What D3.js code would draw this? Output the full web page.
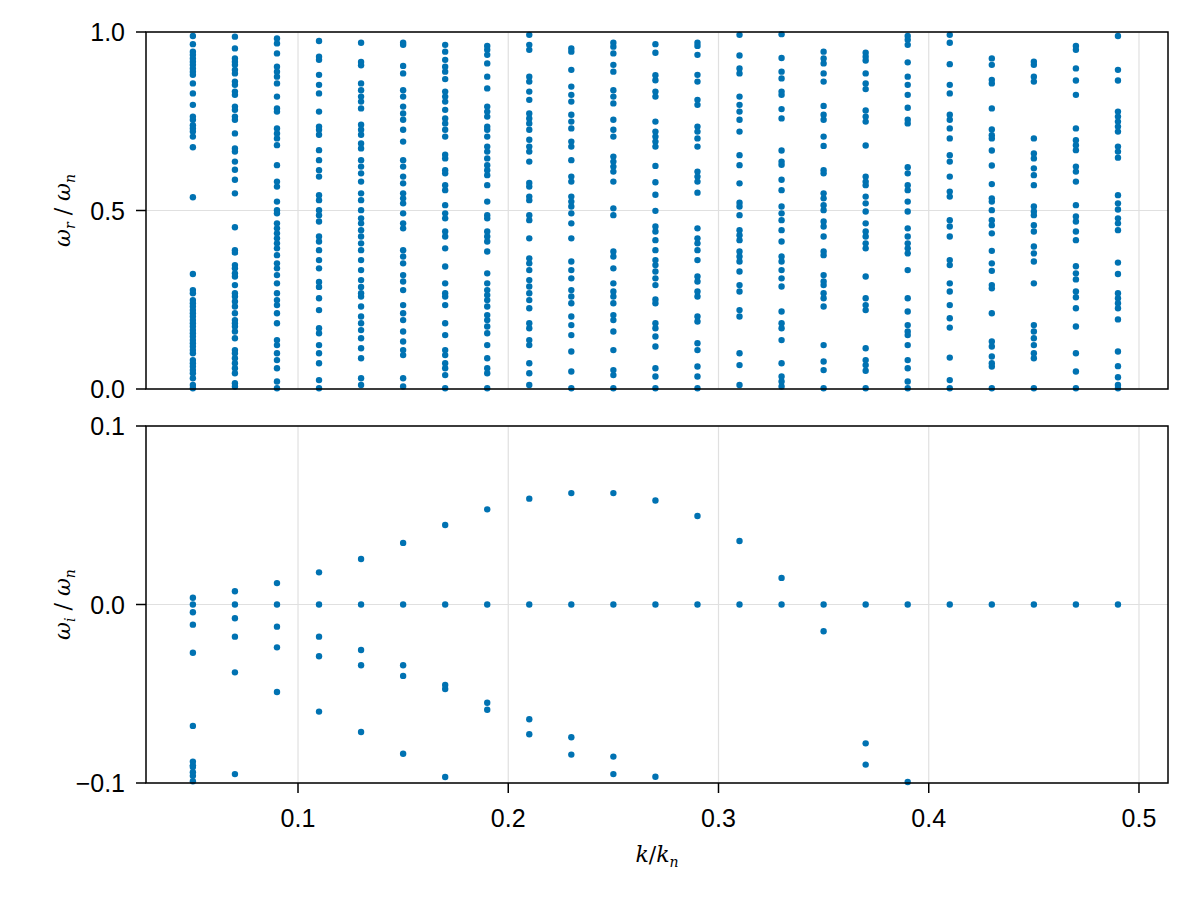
<!DOCTYPE html>
<html>
<head>
<meta charset="utf-8">
<script src="https://cdn.jsdelivr.net/npm/d3@7"></script>
<style>
  body { margin: 0; background: #fff; }
  .tick { font-family: "Liberation Sans", Arial, sans-serif; }
  .math { font-family: "DejaVu Serif", serif; font-style: italic; }
</style>
</head>
<body>
<svg id="chart" width="1200" height="900"></svg>
<script>
// wavenumber columns, k/k_n
const kValues = [0.05, 0.07, 0.09, 0.11, 0.13, 0.15, 0.17, 0.19, 0.21, 0.23, 0.25, 0.27,
  0.29, 0.31, 0.33, 0.35, 0.37, 0.39, 0.41, 0.43, 0.45, 0.47, 0.49];

// real part omega_r / omega_n, one list per k
const omegaR = [
  [0.989,0.966,0.945,0.936,0.926,0.917,0.908,0.898,0.889,0.880,0.856,0.828,0.796,0.763,0.754,0.739,0.730,0.721,0.707,0.677,0.537,0.322,0.277,0.268,0.249,0.240,0.231,0.221,0.212,0.203,0.193,0.184,0.175,0.165,0.156,0.147,0.137,0.128,0.119,0.109,0.100,0.081,0.072,0.063,0.053,0.044,0.030,0.011,0.002],
  [0.987,0.954,0.926,0.917,0.908,0.894,0.884,0.861,0.852,0.833,0.824,0.791,0.782,0.763,0.754,0.716,0.674,0.665,0.637,0.614,0.586,0.548,0.453,0.389,0.382,0.347,0.338,0.324,0.315,0.291,0.268,0.259,0.245,0.231,0.212,0.193,0.184,0.175,0.161,0.142,0.109,0.100,0.086,0.072,0.058,0.044,0.016,0.007],
  [0.982,0.968,0.940,0.903,0.889,0.875,0.856,0.819,0.786,0.777,0.730,0.716,0.702,0.683,0.627,0.581,0.567,0.525,0.501,0.492,0.464,0.450,0.436,0.422,0.408,0.394,0.375,0.352,0.338,0.319,0.296,0.268,0.249,0.235,0.212,0.184,0.137,0.123,0.100,0.081,0.058,0.021,0.002],
  [0.975,0.931,0.922,0.880,0.852,0.828,0.777,0.735,0.726,0.712,0.669,0.641,0.613,0.595,0.543,0.529,0.501,0.487,0.469,0.427,0.413,0.389,0.361,0.338,0.300,0.286,0.254,0.221,0.170,0.156,0.123,0.100,0.072,0.025,0.002],
  [0.970,0.916,0.907,0.856,0.837,0.819,0.805,0.786,0.740,0.726,0.712,0.688,0.674,0.641,0.623,0.604,0.581,0.548,0.529,0.501,0.478,0.464,0.445,0.427,0.408,0.389,0.361,0.333,0.305,0.286,0.268,0.259,0.231,0.203,0.184,0.165,0.142,0.114,0.086,0.030,0.011],
  [0.970,0.964,0.905,0.884,0.837,0.819,0.791,0.772,0.754,0.726,0.693,0.641,0.623,0.595,0.576,0.548,0.534,0.520,0.492,0.464,0.450,0.389,0.371,0.352,0.319,0.301,0.277,0.235,0.212,0.193,0.161,0.133,0.109,0.095,0.030,0.007],
  [0.964,0.945,0.922,0.903,0.889,0.868,0.833,0.819,0.805,0.782,0.758,0.744,0.726,0.707,0.656,0.646,0.613,0.604,0.571,0.557,0.515,0.492,0.478,0.441,0.427,0.394,0.343,0.296,0.268,0.259,0.235,0.184,0.151,0.109,0.095,0.072,0.058,0.039,0.002],
  [0.961,0.950,0.936,0.912,0.875,0.842,0.791,0.777,0.763,0.735,0.726,0.707,0.679,0.665,0.646,0.627,0.613,0.599,0.571,0.525,0.487,0.478,0.441,0.427,0.413,0.385,0.324,0.296,0.277,0.263,0.249,0.231,0.207,0.193,0.175,0.156,0.123,0.086,0.058,0.044,0.002],
  [0.992,0.964,0.950,0.875,0.861,0.833,0.810,0.772,0.758,0.744,0.726,0.698,0.679,0.665,0.637,0.577,0.567,0.539,0.529,0.487,0.473,0.422,0.366,0.352,0.333,0.305,0.287,0.268,0.249,0.226,0.184,0.170,0.137,0.123,0.072,0.044,0.011],
  [0.954,0.945,0.894,0.847,0.824,0.805,0.768,0.749,0.730,0.693,0.679,0.641,0.595,0.581,0.539,0.525,0.511,0.492,0.464,0.422,0.357,0.333,0.310,0.277,0.259,0.240,0.203,0.179,0.151,0.105,0.049,0.002],
  [0.970,0.959,0.940,0.908,0.889,0.837,0.819,0.800,0.754,0.726,0.707,0.651,0.637,0.623,0.609,0.581,0.506,0.487,0.385,0.371,0.338,0.296,0.273,0.259,0.240,0.207,0.193,0.161,0.109,0.053,0.039,0.002],
  [0.966,0.942,0.879,0.865,0.833,0.819,0.749,0.721,0.707,0.693,0.679,0.625,0.579,0.544,0.499,0.455,0.441,0.417,0.389,0.361,0.347,0.329,0.310,0.291,0.251,0.240,0.184,0.170,0.147,0.119,0.058,0.035,0.002],
  [0.970,0.961,0.936,0.880,0.861,0.810,0.796,0.735,0.721,0.702,0.679,0.609,0.595,0.581,0.550,0.450,0.422,0.408,0.389,0.361,0.315,0.301,0.273,0.259,0.203,0.189,0.128,0.109,0.063,0.035,0.002],
  [0.992,0.934,0.898,0.884,0.819,0.796,0.777,0.754,0.721,0.655,0.627,0.576,0.522,0.511,0.487,0.445,0.431,0.417,0.385,0.371,0.357,0.329,0.291,0.273,0.221,0.203,0.100,0.067,0.011],
  [0.994,0.927,0.889,0.870,0.833,0.824,0.784,0.758,0.668,0.637,0.628,0.586,0.557,0.511,0.492,0.473,0.445,0.413,0.371,0.357,0.333,0.310,0.287,0.217,0.184,0.170,0.137,0.072,0.035,0.021,0.007],
  [0.945,0.926,0.912,0.884,0.861,0.793,0.768,0.754,0.707,0.681,0.613,0.604,0.548,0.534,0.515,0.501,0.469,0.455,0.427,0.385,0.375,0.319,0.301,0.291,0.268,0.254,0.231,0.123,0.077,0.053,0.002],
  [0.942,0.931,0.920,0.884,0.856,0.840,0.780,0.763,0.749,0.682,0.595,0.581,0.571,0.539,0.520,0.497,0.464,0.441,0.427,0.408,0.394,0.315,0.254,0.235,0.221,0.114,0.081,0.067,0.051,0.002],
  [0.989,0.978,0.964,0.915,0.875,0.852,0.824,0.788,0.754,0.744,0.621,0.604,0.571,0.557,0.525,0.497,0.450,0.427,0.408,0.394,0.380,0.333,0.254,0.217,0.179,0.161,0.151,0.123,0.081,0.058,0.021,0.002],
  [0.992,0.970,0.910,0.852,0.828,0.768,0.754,0.730,0.702,0.655,0.637,0.595,0.553,0.539,0.473,0.455,0.427,0.361,0.347,0.296,0.273,0.235,0.198,0.172,0.088,0.025,0.002],
  [0.926,0.908,0.866,0.856,0.786,0.727,0.711,0.702,0.668,0.626,0.574,0.534,0.525,0.501,0.473,0.459,0.436,0.387,0.352,0.331,0.291,0.282,0.212,0.133,0.119,0.091,0.072,0.063,0.002],
  [0.917,0.908,0.875,0.861,0.702,0.660,0.646,0.618,0.599,0.571,0.511,0.497,0.487,0.459,0.441,0.399,0.380,0.357,0.296,0.179,0.161,0.142,0.123,0.100,0.086,0.002],
  [0.961,0.950,0.898,0.864,0.824,0.730,0.697,0.683,0.669,0.623,0.609,0.581,0.515,0.483,0.469,0.441,0.417,0.344,0.324,0.307,0.273,0.257,0.226,0.175,0.100,0.049,0.002],
  [0.989,0.894,0.864,0.777,0.763,0.749,0.735,0.721,0.679,0.665,0.648,0.543,0.520,0.503,0.478,0.464,0.445,0.354,0.322,0.268,0.254,0.240,0.226,0.195,0.105,0.064,0.033,0.011,0.002]
];

// imaginary part omega_i / omega_n, one list per k
const omegaI = [
  [0.0038,0,-0.0043,-0.0113,-0.027,-0.068,-0.088,-0.090,-0.091,-0.094,-0.096,-0.099],
  [0.0074,0,-0.0077,-0.018,-0.038,-0.095],
  [0.012,0,-0.0124,-0.024,-0.049],
  [0.018,0,-0.018,-0.029,-0.060],
  [0.0255,0,-0.0255,-0.034,-0.0714],
  [0.0345,0,-0.034,-0.040,-0.0836],
  [0.0445,0,-0.0451,-0.0473,-0.0966],
  [0.0533,0,-0.055,-0.059],
  [0.0593,0,-0.0643,-0.0727],
  [0.0624,0,-0.0744,-0.0841],
  [0.0624,0,-0.0852,-0.095],
  [0.0583,0,-0.0965],
  [0.0496,0],
  [0.0356,0],
  [0.0149,0],
  [0,-0.0150],
  [0,-0.0778,-0.0897],
  [0,-0.0994],
  [0], [0], [0], [0], [0]
];

const xTicks = [0.1, 0.2, 0.3, 0.4, 0.5];
const topTicks = [0, 0.5, 1];
const bottomTicks = [-0.1, 0, 0.1];

const svg = d3.select('#chart');
const left = 146, right = 1168;
const dotColor = '#0072b2';
const fmt = v => d3.format('.1f')(v).replace('-', '\u2212');

const x = d3.scaleLinear().domain([0.0277, 0.5138]).range([left, right]);

function flatten(cols) {
  const out = [];
  cols.forEach((vals, i) => vals.forEach(v => out.push({k: kValues[i], v: v})));
  return out;
}

function panel(top, bottom, domain, ticks, data, showX, labelSub) {
  const y = d3.scaleLinear().domain(domain).range([bottom, top]);
  const g = svg.append('g');

  // grid
  g.selectAll('.gx').data(xTicks).join('line')
    .attr('x1', d => x(d)).attr('x2', d => x(d))
    .attr('y1', top).attr('y2', bottom)
    .attr('stroke', '#e0e0e0').attr('stroke-width', 1.2);
  g.selectAll('.gy').data(ticks).join('line')
    .attr('x1', left).attr('x2', right)
    .attr('y1', d => y(d)).attr('y2', d => y(d))
    .attr('stroke', '#e0e0e0').attr('stroke-width', 1.2);

  // points
  g.append('g').selectAll('circle')
    .data(data.filter(d => d.v >= domain[0] && d.v <= domain[1]))
    .join('circle')
    .attr('cx', d => x(d.k)).attr('cy', d => y(d.v))
    .attr('r', 3.2).attr('fill', dotColor);

  // frame
  g.append('rect').attr('x', left).attr('y', top)
    .attr('width', right - left).attr('height', bottom - top)
    .attr('fill', 'none').attr('stroke', '#000').attr('stroke-width', 1.5);

  // y ticks
  g.selectAll('.ty').data(ticks).join('line')
    .attr('x1', left - 10).attr('x2', left)
    .attr('y1', d => y(d)).attr('y2', d => y(d))
    .attr('stroke', '#000').attr('stroke-width', 1.5);
  g.selectAll('.ly').data(ticks).join('text')
    .attr('class', 'tick')
    .attr('x', left - 21).attr('y', d => y(d)).attr('dy', '0.36em')
    .attr('text-anchor', 'end').attr('font-size', 25)
    .text(d => fmt(d));

  if (showX) {
    g.selectAll('.tx').data(xTicks).join('line')
      .attr('x1', d => x(d)).attr('x2', d => x(d))
      .attr('y1', bottom).attr('y2', bottom + 10)
      .attr('stroke', '#000').attr('stroke-width', 1.5);
    g.selectAll('.lx').data(xTicks).join('text')
      .attr('class', 'tick')
      .attr('x', d => x(d)).attr('y', bottom + 44)
      .attr('text-anchor', 'middle').attr('font-size', 25)
      .text(d => fmt(d));
  }

  // y label, rotated
  const lab = g.append('text').attr('class', 'math')
    .attr('transform', `translate(70, ${(top + bottom) / 2}) rotate(-90)`)
    .attr('text-anchor', 'middle').attr('font-size', 22);
  lab.append('tspan').text('ω');
  lab.append('tspan').attr('font-size', 14).attr('dy', 5).text(labelSub);
  lab.append('tspan').attr('dy', -5).style('font-style', 'normal').text(' / ');
  lab.append('tspan').text('ω');
  lab.append('tspan').attr('font-size', 14).attr('dy', 5).text('n');
}

panel(32, 389, [0, 1], topTicks, flatten(omegaR), false, 'r');
panel(426, 783, [-0.1, 0.1], bottomTicks, flatten(omegaI), true, 'i');

// x label
const xl = svg.append('text').attr('class', 'math')
  .attr('x', 657).attr('y', 862).attr('text-anchor', 'middle')
  .attr('font-size', 22);
xl.append('tspan').text('k');
xl.append('tspan').style('font-style', 'normal').text('/');
xl.append('tspan').text('k');
xl.append('tspan').attr('font-size', 14).attr('dy', 5).text('n');
</script>
</body>
</html>
